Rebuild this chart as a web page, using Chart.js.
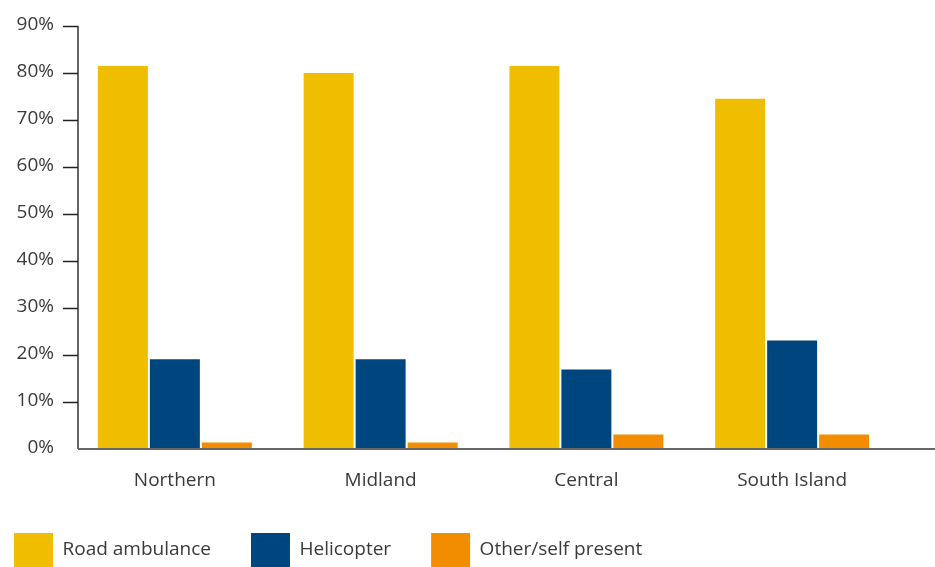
<!DOCTYPE html>
<html>
<head>
<meta charset="utf-8">
<script src="https://cdn.jsdelivr.net/npm/chart.js@4.4.1/dist/chart.umd.min.js"></script>
<style>
  html, body { margin: 0; padding: 0; background: #ffffff; }
  #wrap { width: 935px; height: 567px; }
</style>
</head>
<body>
<div id="wrap"><canvas id="chart" width="935" height="567"></canvas></div>
<script>
// Share of patients by transport mode, per region (%)
const regions = ['Northern', 'Midland', 'Central', 'South Island'];
const roadAmbulance = [81.5, 80.0, 81.5, 74.5];
const helicopter = [19.1, 19.1, 16.9, 23.1];
const otherSelfPresent = [1.4, 1.4, 3.1, 3.1];
const yTicks = [0, 10, 20, 30, 40, 50, 60, 70, 80, 90];

const FONT = "'Open Sans', 'Noto Sans', sans-serif";
const TEXT = '#3a3a3a';

// Draws the axis lines and the short outward tick marks on the value axis
const axisLines = {
  id: 'axisLines',
  afterDatasetsDraw(chart) {
    const { ctx, chartArea, scales } = chart;
    const y = scales.y;
    const axisX = chartArea.left + 6;
    const baseY = chartArea.bottom;
    ctx.save();
    ctx.lineWidth = 2;
    ctx.strokeStyle = '#666666';
    ctx.beginPath();
    ctx.moveTo(axisX, y.getPixelForValue(yTicks[yTicks.length - 1]));
    ctx.lineTo(axisX, baseY);
    ctx.moveTo(axisX, baseY);
    ctx.lineTo(chart.width, baseY);
    ctx.stroke();
    ctx.lineWidth = 1.5;
    ctx.strokeStyle = '#222222';
    ctx.beginPath();
    yTicks.forEach(v => {
      if (v === 0) return;
      const py = Math.round(y.getPixelForValue(v)) + 0.5;
      ctx.moveTo(axisX - 15, py);
      ctx.lineTo(axisX, py);
    });
    ctx.stroke();
    ctx.restore();
  }
};

const barOpts = { categoryPercentage: 0.758, barPercentage: 0.9615, borderWidth: 0 };

new Chart(document.getElementById('chart'), {
  type: 'bar',
  data: {
    labels: regions,
    datasets: [
      Object.assign({ label: 'Road ambulance', data: roadAmbulance, backgroundColor: '#F0BE00' }, barOpts),
      Object.assign({ label: 'Helicopter', data: helicopter, backgroundColor: '#00467E' }, barOpts),
      Object.assign({ label: 'Other/self present', data: otherSelfPresent, backgroundColor: '#F28D00' }, barOpts)
    ]
  },
  options: {
    responsive: false,
    animation: false,
    devicePixelRatio: 1,
    layout: { padding: { left: -26, right: 40, top: 26, bottom: -10 } },
    plugins: {
      tooltip: { enabled: false },
      legend: {
        position: 'bottom',
        align: 'start',
        labels: {
          boxWidth: 39,
          boxHeight: 34,
          padding: 40,
          color: TEXT,
          font: { family: FONT, size: 19 }
        }
      }
    },
    scales: {
      x: {
        grid: { display: false, drawTicks: false },
        border: { display: false },
        ticks: { color: TEXT, font: { family: FONT, size: 19 }, padding: 20 },
        afterFit(scale) { scale.height = 44; }
      },
      y: {
        min: 0,
        max: 90,
        grid: { display: false, drawTicks: false },
        border: { display: false },
        ticks: {
          stepSize: 10,
          padding: 18,
          labelOffset: -1,
          color: TEXT,
          font: { family: FONT, size: 19 },
          callback: v => v + '%'
        },
        afterFit(scale) {
          scale.width = 98;
          scale.paddingTop = 0;
          scale.paddingBottom = 0;
        }
      }
    }
  },
  plugins: [axisLines]
});
</script>
</body>
</html>
